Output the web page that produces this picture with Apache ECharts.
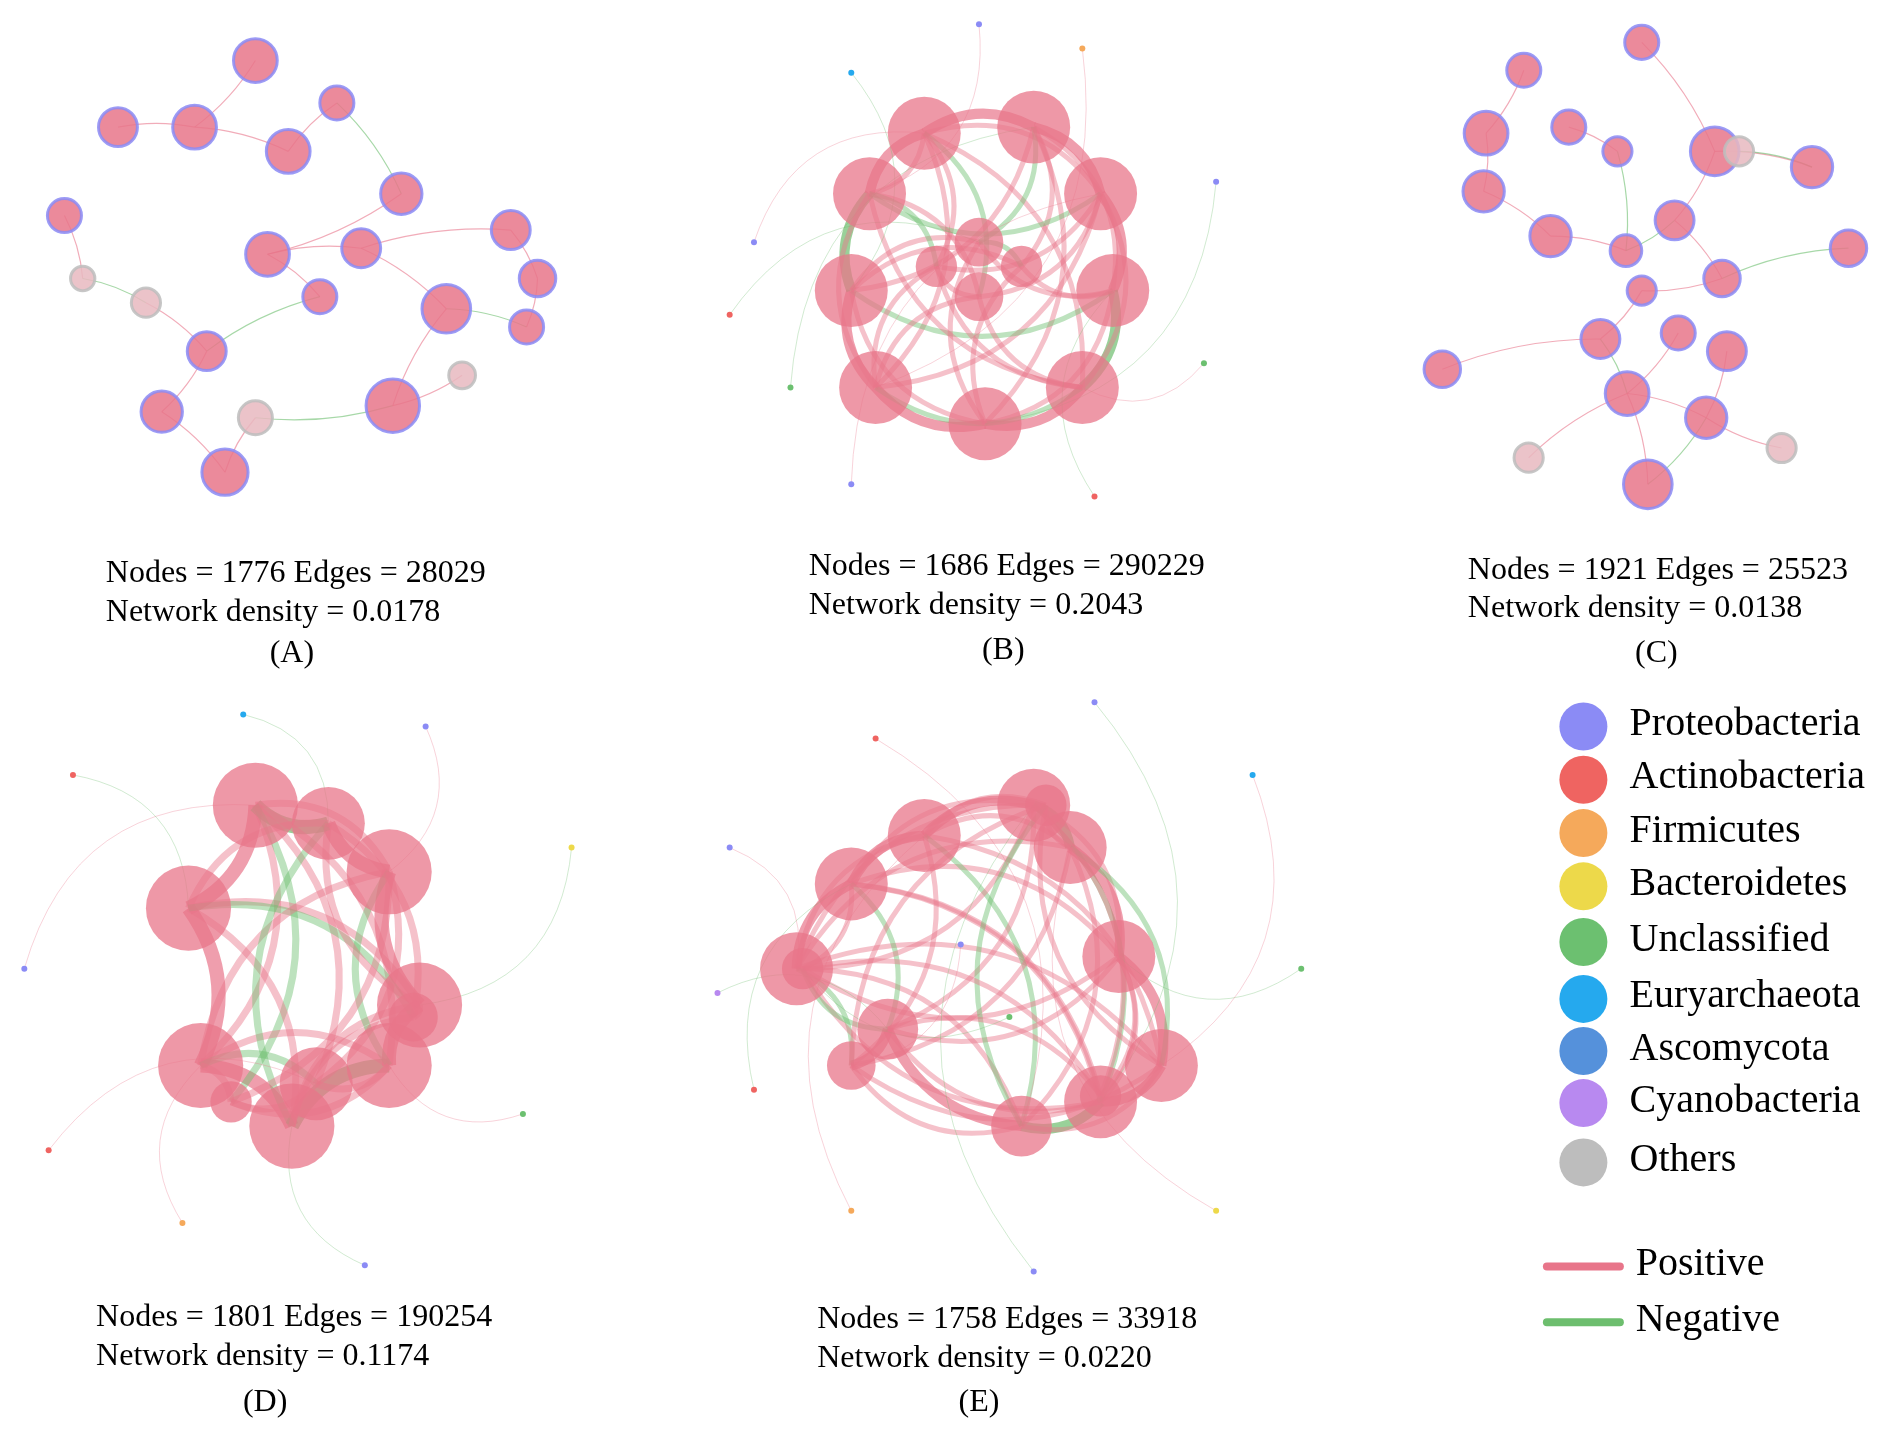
<!DOCTYPE html>
<html>
<head>
<meta charset="utf-8">
<script src="https://cdn.jsdelivr.net/npm/echarts@6/dist/echarts.min.js"></script>
<style>html,body{margin:0;background:#fff}#main{width:1902px;height:1430px}</style>
</head>
<body>
<div id="main"></div>
<script>
// taxa legend
var taxa = ['Proteobacteria','Actinobacteria','Firmicutes','Bacteroidetes','Unclassified','Euryarchaeota','Ascomycota','Cyanobacteria','Others'];
var taxaColors = ['#8b8bf5','#ef6461','#f5a95b','#edd94a','#6cc070','#25a9ee','#5591db','#b889f0','#bdbdbd'];
var edgeTypes = ['Positive','Negative'];
var edgeColors = ['#e8758a','#6dbe6e'];

// panel captions [nodes, edges, density]
var panelNames = ['(A)','(B)','(C)','(D)','(E)'];
var panelNodes = [1776,1686,1921,1801,1758];
var panelEdges = [28029,290229,25523,190254,33918];
var panelDensity = ['0.0178','0.2043','0.0138','0.1174','0.0220'];

// modules: [x, y, size, taxon]
var modulesA = [[210,50,36,1],[160,105,36,1],[97,105,32,0],[237,125,36,1],[277,85,28,0],[330,160,34,1],[220,210,36,1],
  [297,205,32,0],[420,190,32,1],[442,230,30,0],[367,255,40,1],[433,270,28,0],[170,290,32,1],[263,245,28,0],
  [133,340,34,1],[323,335,44,0],[185,390,38,1],[53,178,28,0],[68,230,20,8],[210,345,28,8],[120,250,24,8],[380,310,22,8]];
var linksA = [[0,1],[1,3],[3,4],[4,5],[5,6],[6,7],[7,10],[10,11],[8,9],[9,11],[6,13],[12,13],[12,14],[14,16],[16,19],[15,19],[15,10],[2,1],[17,18],[18,20],[20,12],[7,8],[21,15]];

var modulesB = [[760,110,60,1],[850,105,60,1],[905,160,60,1],[915,240,60,1],[890,320,60,1],[810,350,60,1],[720,320,60,1],
  [700,240,60,1],[715,160,60,1],[805,200,40,0],[805,245,40,0],[840,220,34,6],[770,220,34,3]];
var outerB = [[620,200,6,0],[650,320,6,4],[700,400,6,0],[900,410,6,1],[990,300,6,4],[1000,150,6,0],[890,40,6,2],[700,60,6,5],[805,20,6,0],[600,260,6,1]];

var modulesC = [[1350,35,28,0],[1253,58,28,0],[1222,110,36,1],[1220,158,34,1],[1275,195,34,1],[1290,105,28,0],[1410,125,40,0],
  [1490,138,34,1],[1377,182,32,1],[1330,125,24,0],[1337,207,26,0],[1416,230,30,1],[1350,240,24,1],[1316,280,32,1],
  [1380,275,28,1],[1420,290,32,1],[1338,325,36,0],[1403,345,34,1],[1355,400,40,0],[1186,305,30,0],[1520,205,30,0],
  [1257,378,24,8],[1465,370,24,8],[1430,125,24,8]];
var linksC = [[2,3],[3,4],[4,10],[9,10],[5,9],[6,8],[6,7],[8,10],[8,11],[11,12],[12,13],[13,16],[14,16],[15,17],[16,17],[17,18],[16,18],[1,2],[0,6],[11,20],[19,13],[21,16],[22,17],[23,7]];

var modulesD = [[210,665,70,3],[155,750,70,1],[165,880,70,1],[240,930,70,1],[320,880,70,1],[345,830,70,0],[320,720,70,1],
  [270,680,60,1],[260,895,60,1],[340,840,40,0],[190,910,34,0]];
var outerD = [[20,800,6,0],[60,640,6,1],[150,1010,6,2],[300,1045,6,0],[430,920,6,4],[470,700,6,3],[350,600,6,0],[200,590,6,5],[40,950,6,1]];

var modulesE = [[655,800,60,1],[700,730,60,1],[760,690,60,1],[850,665,60,1],[880,700,60,1],[920,790,60,1],[955,880,60,1],
  [905,910,60,1],[840,930,50,1],[730,850,50,1],[700,880,40,1],[660,800,34,0],[860,665,34,0],[905,905,34,0]];
var outerE = [[600,700,6,0],[620,900,6,1],[700,1000,6,2],[850,1050,6,0],[1000,1000,6,3],[1070,800,6,4],[1030,640,6,5],[900,580,6,0],[720,610,6,1],[590,820,6,7],[790,780,6,0],[830,840,6,4]];

function sx(x){ return x * 1902 / 1564; }
function sy(y){ return y * 1430 / 1181; }

function chainLinks(n, closed){
  var l = [];
  for (var i = 0; i < n - 1; i++) l.push([i, i + 1]);
  if (closed) l.push([n - 1, 0]);
  return l;
}

// builds one graph series on the hidden cartesian grid
function buildGraph(id, mods, outer, links, dense, denseWidth){
  var nodes = [], edges = [];
  mods.forEach(function(m, i){
    nodes.push({name: id + 'm' + i, value: [m[0], m[1]], symbolSize: sx(m[2]), category: m[3],
      itemStyle: dense ? {color: edgeColors[0], opacity: 0.75}
        : {color: m[3] == 8 ? '#e8b8c0' : '#e8758a', borderColor: taxaColors[m[3] == 1 ? 0 : m[3]], borderWidth: 3, opacity: 0.85}});
  });
  (outer || []).forEach(function(m, i){
    nodes.push({name: id + 'o' + i, value: [m[0], m[1]], symbolSize: m[2], category: m[3], itemStyle: {color: taxaColors[m[3]]}});
  });
  links.forEach(function(p, k){
    edges.push({source: id + 'm' + p[0], target: id + 'm' + p[1],
      lineStyle: {color: edgeColors[k % 4 == 3 ? 1 : 0], width: dense ? denseWidth : 1.2, opacity: dense ? 0.7 : 0.6, curveness: dense ? 0.3 : 0.1}});
  });
  if (dense) {
    // core modules of dense networks are joined to each other
    for (var a = 0; a < mods.length; a++) for (var b = a + 2; b < mods.length; b += 2)
      edges.push({source: id + 'm' + a, target: id + 'm' + b, lineStyle: {color: edgeColors[(a + b) % 5 == 0 ? 1 : 0], width: denseWidth / 2, opacity: 0.45, curveness: 0.35}});
  }
  (outer || []).forEach(function(m, i){
    edges.push({source: id + 'o' + i, target: id + 'm' + (i % mods.length),
      lineStyle: {color: edgeColors[i % 2], width: 0.8, opacity: 0.4, curveness: 0.4}});
  });
  return {type: 'graph', coordinateSystem: 'cartesian2d', data: nodes, links: edges, silent: true,
    symbol: 'circle', categories: taxa.map(function(t){ return {name: t}; })};
}

var chart = echarts.init(document.getElementById('main'));

var captions = [[87,474,240,540],[665,468,825,537],[1207,471,1362,540],[79,1088,218,1158],[672,1090,805,1158]];
var graphic = [];
var serif = '"Liberation Serif", "DejaVu Serif", serif';
captions.forEach(function(c, i){
  graphic.push({type: 'text', left: sx(c[0]), top: sy(c[1]) - 16, style: {text: 'Nodes = ' + panelNodes[i] + ' Edges = ' + panelEdges[i], font: '32px ' + serif, fill: '#000'}});
  graphic.push({type: 'text', left: sx(c[0]), top: sy(c[1] + 32) - 16, style: {text: 'Network density = ' + panelDensity[i], font: '32px ' + serif, fill: '#000'}});
  graphic.push({type: 'text', x: sx(c[2]), y: sy(c[3]) - 16, style: {text: panelNames[i], font: '32px ' + serif, fill: '#000', align: 'center'}});
});
var legendY = [600,644,688,732,778,825,868,911,960];
taxa.forEach(function(t, i){
  graphic.push({type: 'circle', shape: {cx: sx(1302), cy: sy(legendY[i]), r: 24}, style: {fill: taxaColors[i]}});
  graphic.push({type: 'text', left: sx(1340), top: sy(legendY[i]) - 22, style: {text: t, font: '40px ' + serif, fill: '#000'}});
});
edgeTypes.forEach(function(t, i){
  var y = sy(1046 + i * 46);
  graphic.push({type: 'line', shape: {x1: sx(1272), y1: y, x2: sx(1332), y2: y}, style: {stroke: edgeColors[i], lineWidth: 8, lineCap: 'round'}});
  graphic.push({type: 'text', left: sx(1345), top: y - 22, style: {text: t, font: '40px ' + serif, fill: '#000'}});
});

chart.setOption({
  backgroundColor: '#fff',
  animation: false,
  grid: {left: 0, top: 0, right: 0, bottom: 0},
  xAxis: {type: 'value', min: 0, max: 1564, show: false},
  yAxis: {type: 'value', min: 0, max: 1181, inverse: true, show: false},
  graphic: graphic,
  series: [
    buildGraph('A', modulesA, null, linksA, false),
    buildGraph('B', modulesB, outerB, chainLinks(9, true), true, 10),
    buildGraph('C', modulesC, null, linksC, false),
    buildGraph('D', modulesD, outerD, chainLinks(8, true), true, 14),
    buildGraph('E', modulesE, outerE, chainLinks(11, false), true, 10)
  ]
});
</script>
</body>
</html>
